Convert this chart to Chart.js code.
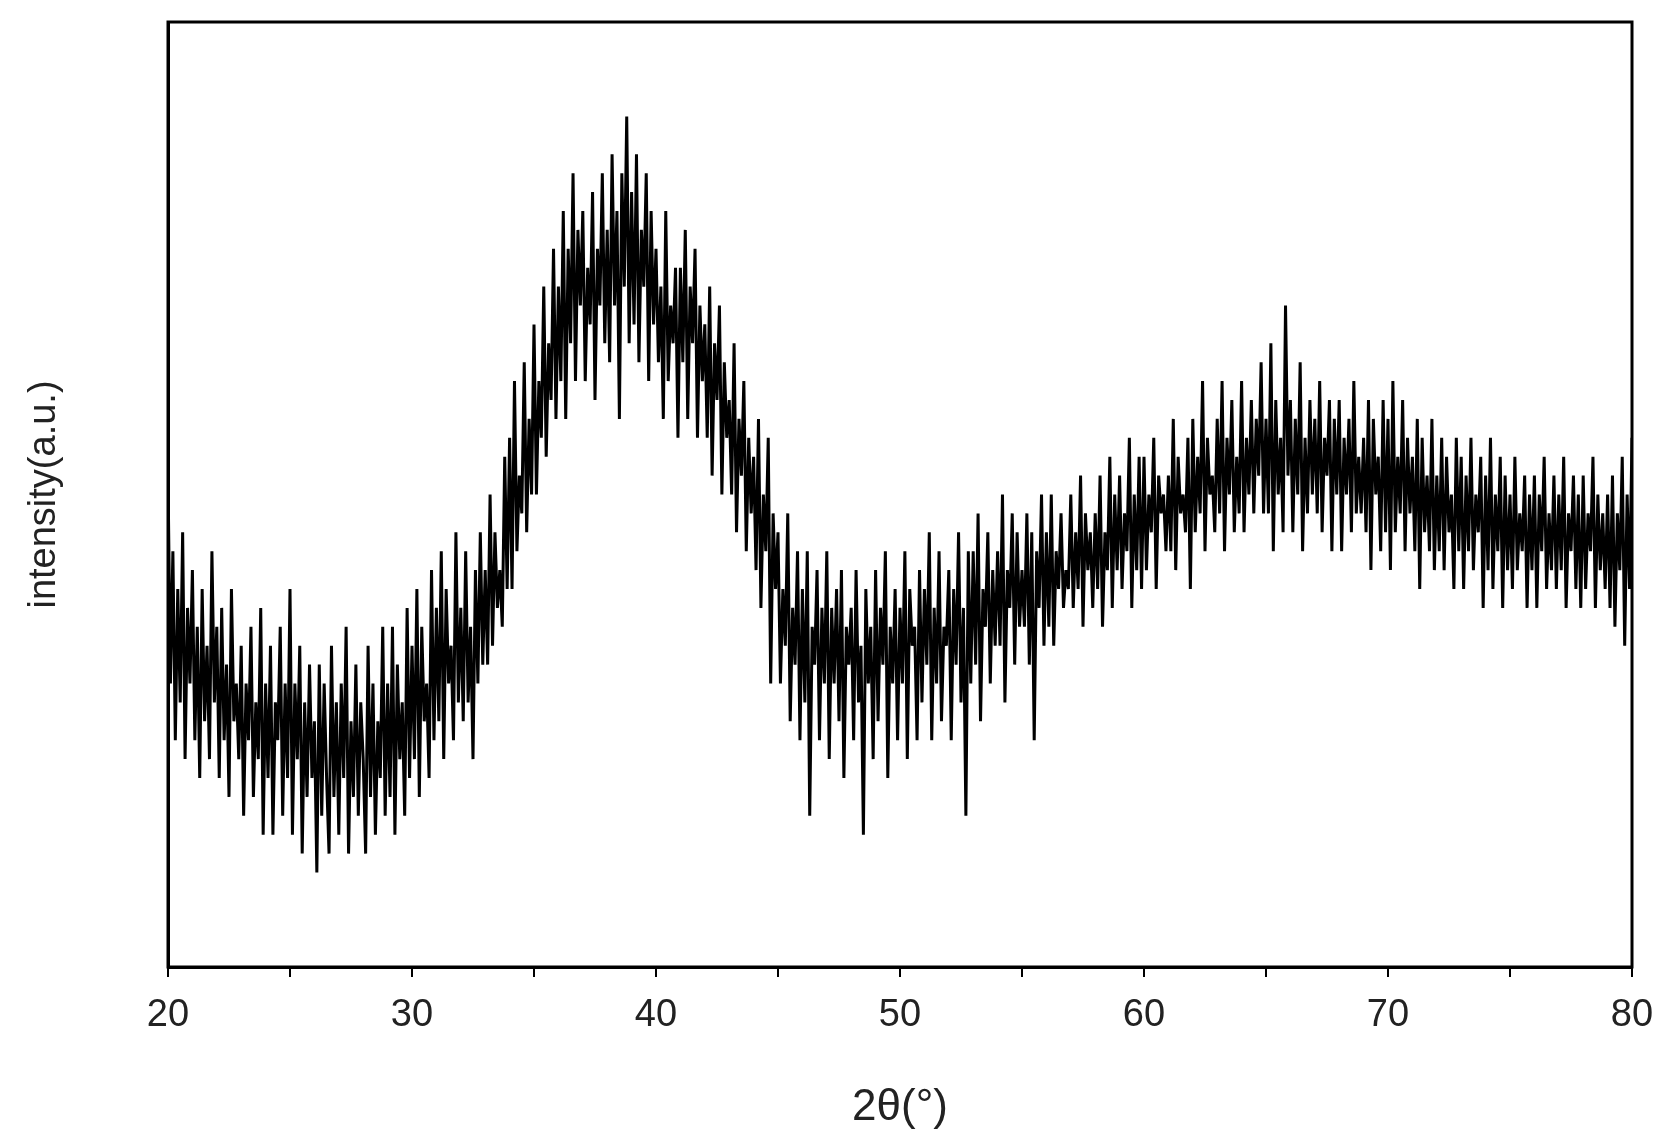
<!DOCTYPE html>
<html><head><meta charset="utf-8">
<script src="https://cdn.jsdelivr.net/npm/chart.js@4/dist/chart.umd.min.js"></script>
<style>html,body{margin:0;padding:0;background:#fff}#c{display:block}</style>
</head><body>
<div style="width:1675px;height:1138px"><canvas id="c"></canvas></div>
<script>
const startAngle = 20, stepAngle = 0.1;
const intensity = [
52,30,44,24,40,28,46,22,38,30,
42,24,36,20,40,26,34,22,44,28,
36,20,38,24,32,18,40,26,30,22,
34,16,30,24,36,18,28,22,38,14,
30,20,34,14,28,24,36,16,30,20,
40,14,30,22,34,12,28,18,32,20,
26,10,32,16,30,20,12,34,18,28,
14,30,20,36,12,26,18,32,16,28,
22,12,34,18,30,14,26,20,36,16,
30,18,36,14,32,22,28,16,38,20,
34,22,40,18,36,26,30,20,42,24,
38,26,44,22,40,30,34,24,46,28,
38,26,44,28,36,22,42,30,46,32,
42,32,50,34,46,38,42,36,54,40,
56,40,62,44,52,48,64,46,58,50,
68,50,62,56,72,54,66,60,76,58,
72,62,80,58,76,66,84,62,78,70,
80,62,74,68,82,60,76,70,84,66,
78,64,86,70,80,58,84,72,90,66,
82,68,86,64,78,72,84,62,80,68,
76,64,72,58,80,62,70,66,74,56,
74,64,78,58,72,66,76,56,70,62,
68,56,72,52,66,60,70,50,64,56,
60,50,66,46,58,52,62,44,56,48,
54,42,58,38,50,44,56,30,48,40,
46,30,40,34,48,26,38,32,44,24,
40,28,44,16,36,32,42,24,38,30,
44,22,38,30,40,26,42,20,36,32,
38,24,42,28,34,14,40,30,36,22,
42,26,38,32,44,20,36,30,40,24,
38,30,44,22,40,34,36,24,42,28,
40,32,46,24,38,30,44,26,36,34,
42,24,40,32,46,28,38,16,44,30,
44,32,48,26,40,36,46,30,42,34,
44,34,50,28,42,38,48,32,46,36,
42,36,48,32,46,24,44,38,50,34,
46,36,50,34,44,40,48,38,42,40,
50,38,46,40,52,36,48,42,46,38,
48,40,52,36,46,42,54,38,50,42,
52,40,48,44,56,38,50,42,54,40,
54,42,50,46,56,40,52,48,50,44,
52,44,58,42,54,48,50,46,56,40,
58,46,54,48,62,44,56,50,52,46,
58,48,62,44,56,50,60,46,54,48,
62,46,56,50,60,48,58,52,64,48,
58,48,66,44,60,50,56,46,70,52,
60,46,58,50,64,44,56,48,60,50,
58,48,62,46,56,52,60,44,58,50,
60,44,56,50,58,46,62,48,54,48,
56,46,60,42,58,50,54,44,60,46,
58,42,62,46,54,48,60,44,56,48,
54,44,58,40,56,46,52,44,58,42,
52,44,56,42,54,46,50,40,56,44,
54,40,52,44,56,42,50,46,54,38,
52,42,56,40,50,44,54,38,52,42,
50,40,54,42,48,44,52,38,50,42,
52,38,50,44,54,40,48,42,52,40,
50,42,54,38,48,44,52,40,50,38,
52,40,48,44,54,38,50,42,48,40,
50,38,52,36,48,42,54,34,50,40,
56];
const xTicks = [20,30,40,50,60,70,80];
const pts = intensity.map((v,i)=>({x: startAngle + i*stepAngle, y: v}));
const frame = {id:'frame', afterDraw(ch){const a=ch.chartArea,c=ch.ctx;c.save();c.strokeStyle='#000';c.lineWidth=3;c.strokeRect(a.left,a.top,a.right-a.left,a.bottom-a.top);c.restore();}};
new Chart(document.getElementById('c'),{
 type:'line',
 data:{datasets:[{data:pts,borderColor:'#000',borderWidth:3,pointRadius:0,tension:0}]},
 options:{responsive:true,maintainAspectRatio:false,animation:false,
  layout:{padding:{left:0,right:43,top:22,bottom:0}},
  plugins:{legend:{display:false},tooltip:{enabled:false}},
  scales:{
   x:{type:'linear',min:20,max:80,
      afterFit(s){s.height=171;},
      border:{color:'#000',width:3},
      grid:{display:true,drawOnChartArea:false,color:'#000',lineWidth:2,tickLength:10},
      ticks:{stepSize:5,autoSkip:false,color:'#222',font:{family:'Liberation Sans',size:38},padding:16,
        callback:v=>xTicks.includes(v)?String(v):''},
      title:{display:true,text:'2θ(°)',color:'#222',font:{family:'Liberation Sans',size:44},padding:{top:16}}},
   y:{min:0,max:100,
      afterFit(s){s.width=168;},
      border:{color:'#000',width:3},
      grid:{display:false},
      ticks:{display:false},
      title:{display:true,text:'intensity(a.u.)',color:'#222',font:{family:'Liberation Sans',size:38},padding:{top:22,bottom:0}}}
  }},
 plugins:[frame]
});
</script>
</body></html>
